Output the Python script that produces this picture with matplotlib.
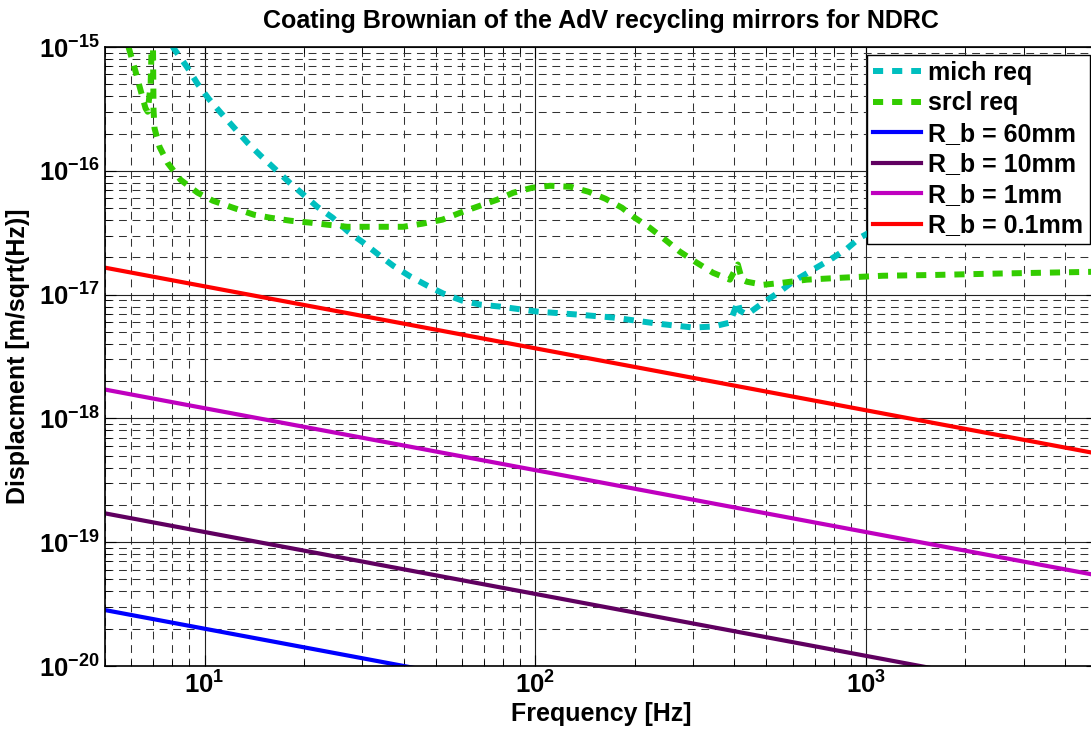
import numpy as np
import matplotlib
matplotlib.use("Agg")
import matplotlib.pyplot as plt

# Datos (frecuencia en Hz, desplazamiento en m/sqrt(Hz))
mich_f = [7.5, 8.06, 8.89, 9.53, 10.3, 11.2, 12.3, 13.5, 14.8, 16.3, 18.1, 19.8, 21.9,
          24.4, 27.2, 30.2, 33.6, 37.2, 41.9, 47.2, 52.7, 60.1, 68.2, 78.3, 101, 134,
          172, 234, 300, 345, 388, 410, 416, 437, 489, 550, 601, 692, 778, 877, 959,
          1200, 1600, 2200, 3200, 5000]
mich_asd = [1.4e-15, 9.8e-16, 6.78e-16, 5.03e-16, 3.81e-16, 2.94e-16, 2.22e-16, 1.68e-16,
            1.32e-16, 1.04e-16, 8.0e-17, 6.5e-17, 5.13e-17, 4.18e-17, 3.22e-17, 2.63e-17,
            2.10e-17, 1.71e-17, 1.40e-17, 1.18e-17, 1.02e-17, 8.95e-18, 8.3e-18, 8.0e-18,
            7.3e-18, 6.9e-18, 6.53e-18, 5.83e-18, 5.42e-18, 5.52e-18, 5.94e-18, 8.8e-18,
            7.4e-18, 6.9e-18, 8.6e-18, 1.06e-17, 1.27e-17, 1.59e-17, 1.91e-17, 2.35e-17,
            2.88e-17, 4.0e-17, 6.0e-17, 9.0e-17, 1.4e-16, 2.2e-16]

srcl_f = [5.6, 5.89, 6.19, 6.36, 6.63, 6.73, 6.87, 6.93, 6.97, 7.01, 7.06, 7.31, 7.73,
          8.46, 9.53, 10.6, 12.2, 14.1, 15.8, 18.2, 20.9, 23.5, 27.0, 31.1, 35.2, 39.9,
          45.6, 52.4, 59.4, 66.8, 76.7, 85.8, 98, 111, 128, 145, 163, 183, 200, 222,
          247, 274, 308, 345, 388, 410, 422, 437, 489, 550, 663, 851, 1125, 1592, 2540,
          5000]
srcl_asd = [2.0e-15, 1.0e-15, 6.3e-16, 4.8e-16, 3.2e-16, 3.0e-16, 5.0e-16, 1.2e-15, 2.0e-15,
            3.1e-16, 2.2e-16, 1.56e-16, 1.16e-16, 8.46e-17, 6.65e-17, 5.73e-17, 5.03e-17,
            4.42e-17, 4.18e-17, 3.95e-17, 3.81e-17, 3.67e-17, 3.53e-17, 3.53e-17, 3.53e-17,
            3.53e-17, 3.74e-17, 4.03e-17, 4.59e-17, 5.13e-17, 5.84e-17, 6.65e-17, 7.3e-17,
            7.57e-17, 7.43e-17, 6.77e-17, 5.95e-17, 5.03e-17, 4.18e-17, 3.47e-17, 2.78e-17,
            2.22e-17, 1.81e-17, 1.50e-17, 1.32e-17, 1.75e-17, 1.32e-17, 1.27e-17, 1.20e-17,
            1.24e-17, 1.32e-17, 1.37e-17, 1.42e-17, 1.44e-17, 1.48e-17, 1.53e-17]

# Rectas (log-log) para cada radio de haz: valores en los extremos 5 Hz y 5 kHz
rb_f = [5, 5000]
rb_60mm = [2.83e-20, 8.95e-22]
rb_10mm = [1.71e-19, 5.4e-21]
rb_1mm = [1.71e-18, 5.4e-20]
rb_01mm = [1.65e-17, 5.2e-19]

yticks = [1e-20, 1e-19, 1e-18, 1e-17, 1e-16, 1e-15]
ytick_labels = [r'$\mathbf{10^{-20}}$', r'$\mathbf{10^{-19}}$', r'$\mathbf{10^{-18}}$',
                r'$\mathbf{10^{-17}}$', r'$\mathbf{10^{-16}}$', r'$\mathbf{10^{-15}}$']
xticks = [10, 100, 1000]
xtick_labels = [r'$\mathbf{10^{1}}$', r'$\mathbf{10^{2}}$', r'$\mathbf{10^{3}}$']

plt.rcParams['font.family'] = ['Liberation Sans', 'DejaVu Sans']
plt.rcParams['font.weight'] = 'bold'
plt.rcParams['mathtext.fontset'] = 'custom'
plt.rcParams['mathtext.bf'] = 'Liberation Sans:bold'
plt.rcParams['mathtext.rm'] = 'Liberation Sans:bold'

fig = plt.figure(figsize=(10.91, 7.35), dpi=100)
ax = fig.add_axes([105 / 1091, 69 / 735, 992 / 1091, 619 / 735])

dots = (0, (1.7, 1.5))
ax.plot(mich_f, mich_asd, color='#00BFBF', lw=4.3, ls=dots, dash_capstyle='butt',
        label='mich req')
ax.plot(srcl_f, srcl_asd, color='#33CC00', lw=4.3, ls=dots, dash_capstyle='butt',
        label='srcl req')
ax.plot(rb_f, rb_60mm, color='#0000FF', lw=3, label='R_b = 60mm')
ax.plot(rb_f, rb_10mm, color='#600060', lw=3, label='R_b = 10mm')
ax.plot(rb_f, rb_1mm, color='#BF00BF', lw=3, label='R_b = 1mm')
ax.plot(rb_f, rb_01mm, color='#FF0000', lw=3, label='R_b = 0.1mm')

ax.set_xscale('log')
ax.set_yscale('log')
ax.set_xlim(5, 5000)
ax.set_ylim(1e-20, 1e-15)
ax.set_xticks(xticks, xtick_labels)
ax.set_yticks(yticks, ytick_labels)

ax.grid(True, which='major', color='#222222', lw=0.8, ls='-')
ax.grid(True, which='minor', color='#333333', lw=0.75, ls=(0, (7.5, 5.5)))
ax.set_axisbelow(True)
ax.tick_params(which='both', direction='in', top=True, right=True, labelsize=18.5)
ax.tick_params(which='major', length=8, pad=4)
ax.tick_params(which='minor', length=4)
for s in ax.spines.values():
    s.set_linewidth(1.2)

ax.set_title('Coating Brownian of the AdV recycling mirrors for NDRC',
             fontsize=18, fontweight='bold', pad=14)
ax.set_xlabel('Frequency [Hz]', fontsize=18, fontweight='bold', labelpad=2)
ax.set_ylabel('Displacment [m/sqrt(Hz)]', fontsize=18, fontweight='bold', labelpad=6)

leg = ax.legend(loc='upper right', fontsize=18, frameon=True, fancybox=False,
                framealpha=1, edgecolor='black', borderaxespad=0.3, borderpad=0.25,
                handlelength=1.9, handletextpad=0.3, labelspacing=0.26)
leg.get_frame().set_linewidth(1.0)
for t in leg.get_texts():
    t.set_fontweight('bold')

fig.savefig('out.png', dpi=100)
